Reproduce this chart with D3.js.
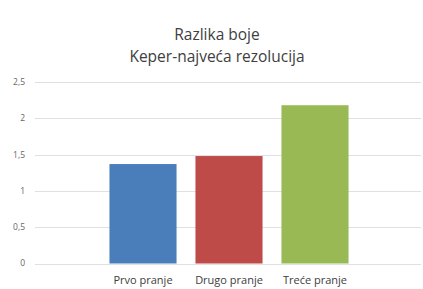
<!DOCTYPE html>
<html>
<head>
<meta charset="utf-8">
<script src="https://cdn.jsdelivr.net/npm/d3@7"></script>
<style>
  body { margin: 0; background: #fff; }
  text { font-family: "Open Sans", sans-serif; }
</style>
</head>
<body>
<svg width="423" height="289"></svg>
<script>
// chart data
var categories = ["Prvo pranje", "Drugo pranje", "Treće pranje"];
var values = [1.37, 1.48, 2.18];
var colors = ["#4a7ebb", "#be4b48", "#98b954"];
var yTicks = [0, 0.5, 1, 1.5, 2, 2.5];
var titleLines = ["Razlika boje", "Keper-najveća rezolucija"];

var svg = d3.select("svg");

var x = d3.scaleBand()
    .domain(categories)
    .range([100, 358])
    .paddingInner(0.22)
    .paddingOuter(0.11);

var y = d3.scaleLinear()
    .domain([0, 2.5])
    .range([263.5, 82]);

var fmt = function(d) { return String(d).replace(".", ","); };

// gridlines
svg.append("g")
    .selectAll("line")
    .data(yTicks)
    .enter().append("line")
    .attr("x1", 35)
    .attr("x2", 421)
    .attr("y1", function(d) { return Math.round(y(d)) + 0.5; })
    .attr("y2", function(d) { return Math.round(y(d)) + 0.5; })
    .attr("stroke", "#e0e0e0")
    .attr("stroke-width", 1);

// y tick labels
svg.append("g")
    .selectAll("text")
    .data(yTicks)
    .enter().append("text")
    .attr("x", 25)
    .attr("y", function(d) { return y(d); })
    .attr("dy", "0.35em")
    .attr("text-anchor", "end")
    .attr("font-size", "8.5px")
    .attr("fill", "#666")
    .text(fmt);

// bars
svg.append("g")
    .selectAll("rect")
    .data(values)
    .enter().append("rect")
    .attr("x", function(d, i) { return x(categories[i]); })
    .attr("width", x.bandwidth())
    .attr("y", function(d) { return y(d); })
    .attr("height", function(d) { return y(0) - y(d); })
    .attr("fill", function(d, i) { return colors[i]; });

// category labels
svg.append("g")
    .selectAll("text")
    .data(categories)
    .enter().append("text")
    .attr("x", function(d) { return x(d) + x.bandwidth() / 2; })
    .attr("y", 284)
    .attr("text-anchor", "middle")
    .attr("font-size", "11px")
    .attr("fill", "#404040")
    .text(function(d) { return d; });

// title
svg.append("g")
    .selectAll("text")
    .data(titleLines)
    .enter().append("text")
    .attr("x", 217)
    .attr("y", function(d, i) { return 40 + i * 22; })
    .attr("text-anchor", "middle")
    .attr("font-size", "15.5px")
    .attr("fill", "#404040")
    .text(function(d) { return d; });
</script>
</body>
</html>
